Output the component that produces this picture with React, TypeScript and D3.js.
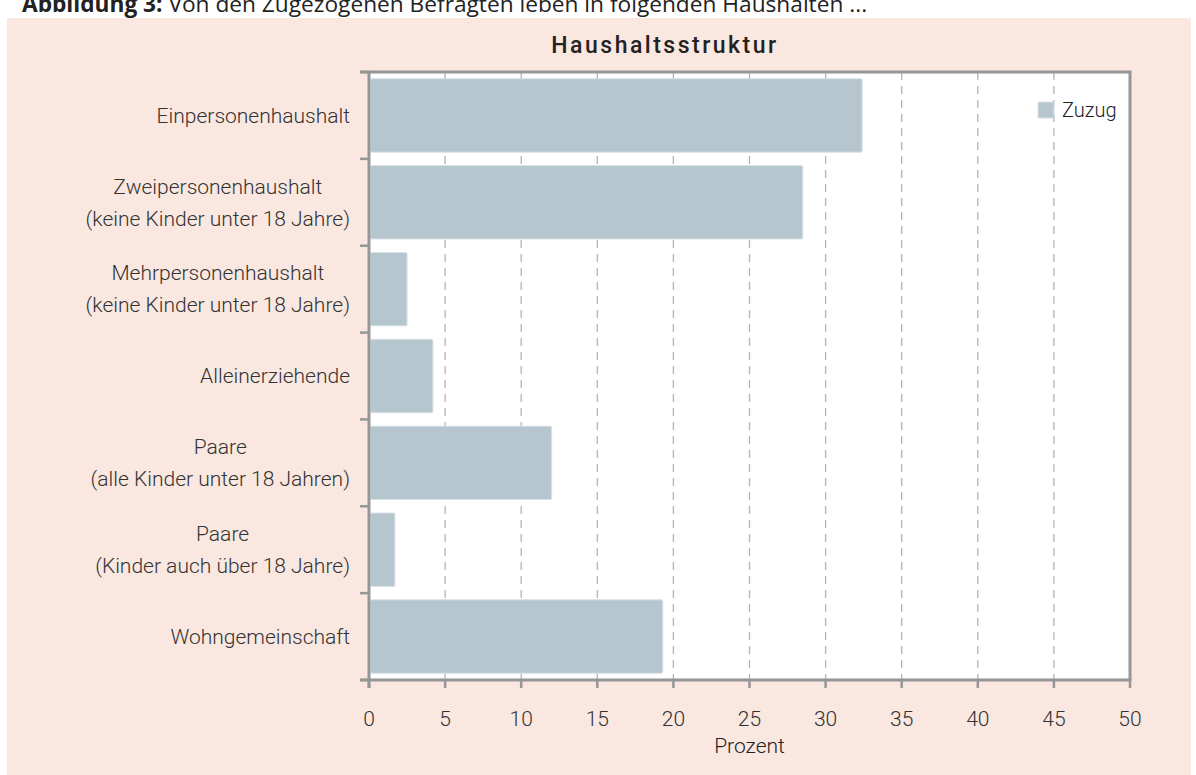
import * as d3 from 'd3';
import React, { useEffect, useRef } from 'react';

// data
const categories = [
  ['Einpersonenhaushalt'],
  ['Zweipersonenhaushalt', '(keine Kinder unter 18 Jahre)'],
  ['Mehrpersonenhaushalt', '(keine Kinder unter 18 Jahre)'],
  ['Alleinerziehende'],
  ['Paare', '(alle Kinder unter 18 Jahren)'],
  ['Paare', '(Kinder auch über 18 Jahre)'],
  ['Wohngemeinschaft'],
];
const zuzug = [32.4, 28.5, 2.5, 4.2, 12.0, 1.7, 19.3];
const xTicks = [0, 5, 10, 15, 20, 25, 30, 35, 40, 45, 50];
const seriesName = 'Zuzug';
const chartTitle = 'Haushaltsstruktur';
const xAxisLabel = 'Prozent';
const captionBold = 'Abbildung 3:';
const captionText = ' Von den Zugezogenen Befragten leben in folgenden Haushalten ...';

const W = 1196;
const H = 775;
const FONT = 'Roboto, "DejaVu Sans Condensed", sans-serif';
const BAR = '#b6c6ce';
const AXIS = '#969696';

function App() {
  const ref = useRef<SVGSVGElement>(null);

  useEffect(() => {
    const svg = d3.select(ref.current);
    svg.selectAll('*').remove();

    const plot = { left: 369, right: 1130, top: 72, bottom: 680 };

    const x = d3.scaleLinear().domain([0, 50]).range([plot.left, plot.right]);
    const y = d3.scaleBand<number>()
      .domain(categories.map((_, i) => i))
      .range([plot.top, plot.bottom])
      .paddingInner(0.155)
      .paddingOuter(0.0775);

    // panel
    svg.append('rect')
      .attr('x', 7).attr('y', 18)
      .attr('width', 1184).attr('height', H - 18)
      .attr('fill', '#f9e7e0');

    // caption (cut at top of page, as in the reference)
    const cap = svg.append('text')
      .attr('x', 22).attr('y', 12)
      .attr('font-family', '"Open Sans", sans-serif')
      .attr('font-size', 22.7)
      .attr('fill', '#222');
    cap.append('tspan').attr('font-weight', 'bold').text(captionBold);
    cap.append('tspan').text(captionText);

    // title
    svg.append('text')
      .attr('x', 665).attr('y', 53)
      .attr('text-anchor', 'middle')
      .attr('font-family', FONT)
      .attr('font-size', 23)
      .attr('font-weight', 500)
      .attr('letter-spacing', 2.5)
      .attr('fill', '#222')
      .text(chartTitle);

    // plot background
    svg.append('rect')
      .attr('x', plot.left).attr('y', plot.top)
      .attr('width', plot.right - plot.left)
      .attr('height', plot.bottom - plot.top)
      .attr('fill', '#fff');

    // dashed gridlines
    svg.append('g')
      .selectAll('line')
      .data(xTicks.slice(1, -1))
      .join('line')
      .attr('x1', d => x(d)).attr('x2', d => x(d))
      .attr('y1', plot.top).attr('y2', plot.bottom)
      .attr('stroke', '#b4b4b4')
      .attr('stroke-width', 1.3)
      .attr('stroke-dasharray', '8,6');

    // bars
    svg.append('g')
      .selectAll('rect')
      .data(zuzug)
      .join('rect')
      .attr('x', x(0) + 1.5)
      .attr('y', (_, i) => y(i)!)
      .attr('width', d => x(d) - x(0) - 1.5)
      .attr('height', y.bandwidth())
      .attr('rx', 1.5)
      .attr('fill', BAR)
      .attr('stroke', '#d6e0e5')
      .attr('stroke-width', 1);

    // frame: top and right
    svg.append('path')
      .attr('d', `M${plot.left - 9},${plot.top}H${plot.right}V${plot.bottom}`)
      .attr('fill', 'none')
      .attr('stroke', AXIS)
      .attr('stroke-width', 3);

    // y axis line + ticks at band boundaries
    const bounds = categories.map((_, i) => y(i)! - (y.step() - y.bandwidth()) / 2);
    bounds.push(plot.bottom);
    svg.append('line')
      .attr('x1', plot.left).attr('x2', plot.left)
      .attr('y1', plot.top).attr('y2', plot.bottom + 8)
      .attr('stroke', AXIS).attr('stroke-width', 3);
    svg.append('g')
      .selectAll('line')
      .data(bounds)
      .join('line')
      .attr('x1', plot.left - 9).attr('x2', plot.left)
      .attr('y1', d => d).attr('y2', d => d)
      .attr('stroke', AXIS).attr('stroke-width', 2.5);

    // x axis line + ticks
    svg.append('line')
      .attr('x1', plot.left - 9).attr('x2', plot.right + 1.5)
      .attr('y1', plot.bottom).attr('y2', plot.bottom)
      .attr('stroke', AXIS).attr('stroke-width', 3);
    svg.append('g')
      .selectAll('line')
      .data(xTicks)
      .join('line')
      .attr('x1', d => x(d)).attr('x2', d => x(d))
      .attr('y1', plot.bottom).attr('y2', plot.bottom + 8)
      .attr('stroke', AXIS).attr('stroke-width', 2.5);

    // x tick labels
    svg.append('g')
      .selectAll('text')
      .data(xTicks)
      .join('text')
      .attr('x', d => x(d))
      .attr('y', 726)
      .attr('text-anchor', 'middle')
      .attr('font-family', FONT)
      .attr('font-weight', 300)
      .attr('font-size', 21)
      .attr('fill', '#333')
      .text(d => d);

    svg.append('text')
      .attr('x', (plot.left + plot.right) / 2)
      .attr('y', 753)
      .attr('text-anchor', 'middle')
      .attr('font-family', FONT)
      .attr('font-weight', 300)
      .attr('font-size', 21)
      .attr('fill', '#222')
      .text(xAxisLabel);

    // category labels: lines centered on each other, block right-aligned
    const labelRight = 350;
    const lineGap = 32;
    categories.forEach((lines, i) => {
      const cy = y(i)! + y.bandwidth() / 2;
      const g = svg.append('g');
      const texts = lines.map((line, j) =>
        g.append('text')
          .attr('y', cy + (j - (lines.length - 1) / 2) * lineGap)
          .attr('dy', '0.35em')
          .attr('text-anchor', 'middle')
          .attr('font-family', FONT)
          .attr('font-weight', 300)
          .attr('font-size', 21)
          .attr('fill', '#333')
          .text(line)
      );
      const maxW = d3.max(texts, t => (t.node() as SVGTextElement).getComputedTextLength()) || 0;
      texts.forEach(t => t.attr('x', labelRight - maxW / 2));
    });

    // legend
    svg.append('rect')
      .attr('x', 1038).attr('y', 102)
      .attr('width', 16).attr('height', 16)
      .attr('rx', 1.5)
      .attr('fill', BAR)
      .attr('stroke', '#d6e0e5');
    svg.append('text')
      .attr('x', 1062).attr('y', 117)
      .attr('font-family', FONT)
      .attr('font-weight', 300)
      .attr('font-size', 20)
      .attr('fill', '#222')
      .text(seriesName);
  }, []);

  return (
    <svg
      ref={ref}
      width={W}
      height={H}
      style={{ position: 'absolute', left: 0, top: 0, display: 'block' }}
    />
  );
}

export default App;
